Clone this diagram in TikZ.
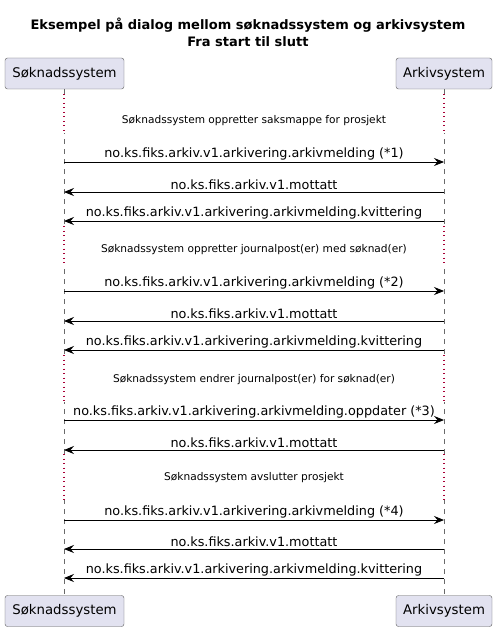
\documentclass[tikz,border=0pt]{standalone}
\usepackage{fontspec}
\setmainfont{DejaVu Sans}
\usetikzlibrary{positioning, arrows.meta, calc}
\definecolor{boxfill}{HTML}{E2E2F0}
\definecolor{boxline}{HTML}{5A5A5A}
\definecolor{delayred}{HTML}{A80036}
\definecolor{lifegray}{HTML}{6A6A6A}

\begin{document}
\begin{tikzpicture}[x=1pt, y=-1pt,
	actor/.style={draw=boxline, fill=boxfill, rounded corners=2.5pt, minimum height=31pt, inner sep=0pt, font=\fontsize{13.3}{16}\selectfont},
	life/.style={draw=lifegray, line width=0.6pt, dash pattern=on 5pt off 5pt},
	gap/.style={draw=white, line width=2pt},
	delay/.style={draw=delayred, line width=1.1pt, dash pattern=on 1pt off 3.5pt},
	msg/.style={line width=0.8pt, -{Stealth[length=10pt, width=8pt, inset=3.5pt]}},
	lbl/.style={above=0.5pt, inner sep=1pt, font=\fontsize{12.8}{14}\selectfont},
	note/.style={font=\fontsize{10.6}{12}\selectfont}]
		\useasboundingbox (0,0) rectangle (497,631);
		\node[align=center, font=\bfseries\fontsize{13}{17}\selectfont] (title) at (248,32.5) {Eksempel på dialog mellom søknadssystem og arkivsystem\\Fra start til slutt};
		
		% deltakere
		\node[actor, minimum width=119pt] (sokTop) at (64.5,73.5) {Søknadssystem};
		\node[actor, minimum width=96pt] (arkTop) at (444,73.5) {Arkivsystem};
		\node[actor, minimum width=119pt] (sokBot) at (64.5,611) {Søknadssystem};
		\node[actor, minimum width=96pt] (arkBot) at (444,611) {Arkivsystem};
		\draw[life] (sokTop) -- (sokBot);
		\draw[life] (arkTop) -- (arkBot);
		
		% pauser
		\coordinate (sd1a) at (64,94); \coordinate (sd1b) at (64,133);
		\coordinate (ad1a) at (444,94); \coordinate (ad1b) at (444,133);
		\coordinate (sd2a) at (64,226); \coordinate (sd2b) at (64,266);
		\coordinate (ad2a) at (444,226); \coordinate (ad2b) at (444,266);
		\coordinate (sd3a) at (64,355); \coordinate (sd3b) at (64,402);
		\coordinate (ad3a) at (444,355); \coordinate (ad3b) at (444,402);
		\coordinate (sd4a) at (64,454); \coordinate (sd4b) at (64,500);
		\coordinate (ad4a) at (444,454); \coordinate (ad4b) at (444,500);
		\draw[gap] (sd1a) -- (sd1b); \draw[delay] (sd1a) -- (sd1b);
		\draw[gap] (ad1a) -- (ad1b); \draw[delay] (ad1a) -- (ad1b);
		\draw[gap] (sd2a) -- (sd2b); \draw[delay] (sd2a) -- (sd2b);
		\draw[gap] (ad2a) -- (ad2b); \draw[delay] (ad2a) -- (ad2b);
		\draw[gap] (sd3a) -- (sd3b); \draw[delay] (sd3a) -- (sd3b);
		\draw[gap] (ad3a) -- (ad3b); \draw[delay] (ad3a) -- (ad3b);
		\draw[gap] (sd4a) -- (sd4b); \draw[delay] (sd4a) -- (sd4b);
		\draw[gap] (ad4a) -- (ad4b); \draw[delay] (ad4a) -- (ad4b);
		\node[note] (n1) at (254,121) {Søknadssystem oppretter saksmappe for prosjekt};
		\node[note] (n2) at (254,250) {Søknadssystem oppretter journalpost(er) med søknad(er)};
		\node[note] (n3) at (254,380) {Søknadssystem endrer journalpost(er) for søknad(er)};
		\node[note] (n4) at (254,478) {Søknadssystem avslutter prosjekt};
		
		% meldinger
		\coordinate (s1) at (64,162); \coordinate (a1) at (444,162);
		\coordinate (s2) at (64,192); \coordinate (a2) at (444,192);
		\coordinate (s3) at (64,221); \coordinate (a3) at (444,221);
		\coordinate (s4) at (64,291); \coordinate (a4) at (444,291);
		\coordinate (s5) at (64,321); \coordinate (a5) at (444,321);
		\coordinate (s6) at (64,350); \coordinate (a6) at (444,350);
		\coordinate (s7) at (64,420); \coordinate (a7) at (444,420);
		\coordinate (s8) at (64,450); \coordinate (a8) at (444,450);
		\coordinate (s9) at (64,520); \coordinate (a9) at (444,520);
		\coordinate (s10) at (64,549); \coordinate (a10) at (444,549);
		\coordinate (s11) at (64,578); \coordinate (a11) at (444,578);
		\draw[msg] (s1) -- node[lbl]{no.ks.fiks.arkiv.v1.arkivering.arkivmelding (*1)} (a1);
		\draw[msg] (a2) -- node[lbl]{no.ks.fiks.arkiv.v1.mottatt} (s2);
		\draw[msg] (a3) -- node[lbl]{no.ks.fiks.arkiv.v1.arkivering.arkivmelding.kvittering} (s3);
		\draw[msg] (s4) -- node[lbl]{no.ks.fiks.arkiv.v1.arkivering.arkivmelding (*2)} (a4);
		\draw[msg] (a5) -- node[lbl]{no.ks.fiks.arkiv.v1.mottatt} (s5);
		\draw[msg] (a6) -- node[lbl]{no.ks.fiks.arkiv.v1.arkivering.arkivmelding.kvittering} (s6);
		\draw[msg] (s7) -- node[lbl]{no.ks.fiks.arkiv.v1.arkivering.arkivmelding.oppdater (*3)} (a7);
		\draw[msg] (a8) -- node[lbl]{no.ks.fiks.arkiv.v1.mottatt} (s8);
		\draw[msg] (s9) -- node[lbl]{no.ks.fiks.arkiv.v1.arkivering.arkivmelding (*4)} (a9);
		\draw[msg] (a10) -- node[lbl]{no.ks.fiks.arkiv.v1.mottatt} (s10);
		\draw[msg] (a11) -- node[lbl]{no.ks.fiks.arkiv.v1.arkivering.arkivmelding.kvittering} (s11);
\end{tikzpicture}
\end{document}
